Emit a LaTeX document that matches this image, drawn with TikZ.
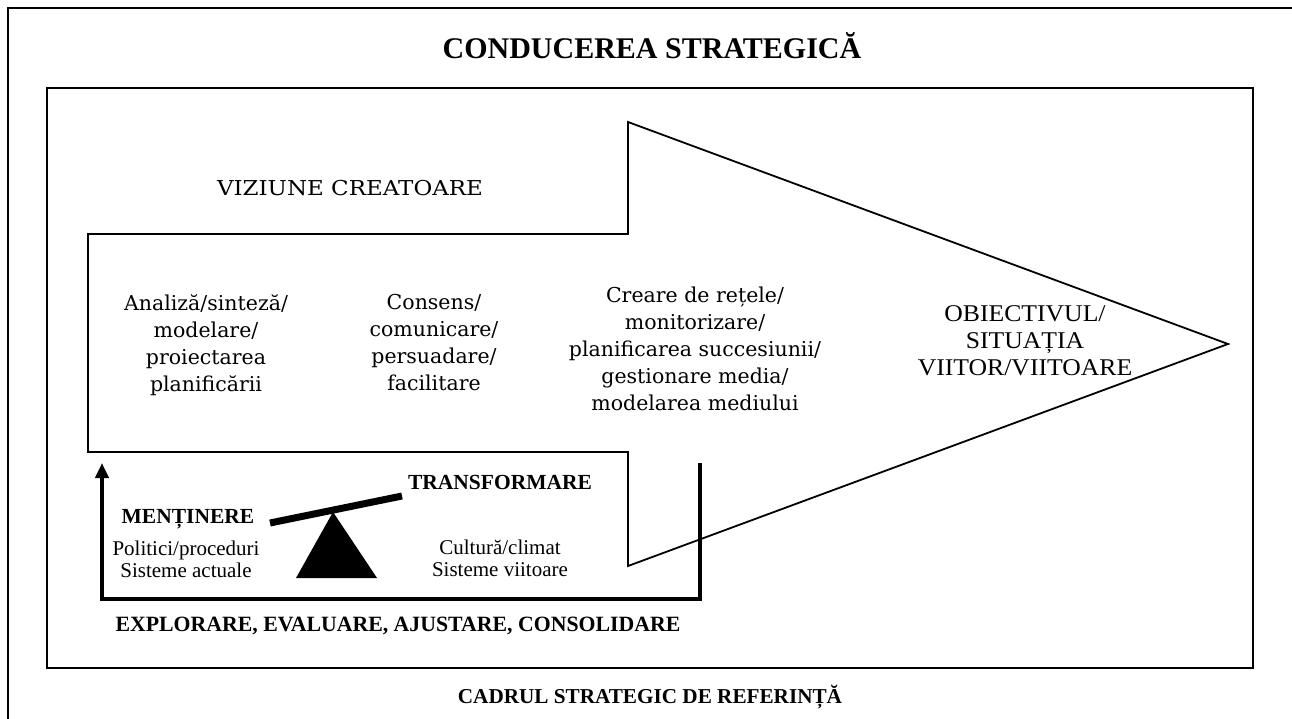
\documentclass[tikz,border=0pt]{standalone}
\usepackage{fontspec}
\setmainfont{Liberation Serif}
\newfontfamily\bk{DejaVu Serif}
\newfontfamily\bkwide[FakeStretch=1.12]{DejaVu Serif}
\newfontfamily\goalfont[FakeStretch=1.07]{Liberation Serif}
\newcommand\mytightlines{\lineskiplimit=-100pt\relax}
\usetikzlibrary{arrows.meta}
\begin{document}
\begin{tikzpicture}[x=1pt,y=-1pt,
  frameline/.style={line width=2pt, line join=miter},
  bigarrow/.style={line width=1.8pt, line join=miter},
  loopline/.style={line width=4.5pt, line join=miter},
  bktext/.style={font=\bk\fontsize{20.5}{27}\selectfont\mytightlines, align=center, inner sep=0pt},
  goaltext/.style={font=\goalfont\fontsize{24}{27}\selectfont\mytightlines, align=center, inner sep=0pt},
  smalltext/.style={font=\fontsize{21}{22}\selectfont\mytightlines, align=center, inner sep=0pt},
  boldlabel/.style={font=\bfseries\fontsize{21.5}{24}\selectfont, inner sep=0pt, anchor=base},
  titletext/.style={font=\bfseries\fontsize{30}{34}\selectfont, inner sep=0pt, anchor=base}
]
\useasboundingbox (0,0) rectangle (1292,719);
\fill[white] (0,0) rectangle (1292,719);

% outer frame (cropped)
\draw[frameline] (8,719) -- (8,8) -- (1292,8);
% inner frame
\draw[frameline] (47,88) rectangle (1253,668);

% big arrow
\coordinate (bodyTL) at (88,234);
\coordinate (stepT) at (628,234);
\coordinate (headT) at (628,122);
\coordinate (tip) at (1228,344);
\coordinate (headB) at (628,566);
\coordinate (stepB) at (628,452);
\coordinate (bodyBL) at (88,452);
\draw[bigarrow] (bodyTL) -- (stepT) -- (headT) -- (tip) -- (headB) -- (stepB) -- (bodyBL) -- cycle;

% loop bracket
\coordinate (loopR) at (700,463);
\coordinate (loopRB) at (700,599);
\coordinate (loopLB) at (102,599);
\coordinate (loopL) at (102,463);
\draw[loopline, -{Triangle[length=15pt,width=13pt]}] (loopR) -- (loopRB) -- (loopLB) -- (loopL);

% seesaw
\draw[line width=7pt] (270,523) -- (402,496);
\fill (333,512) -- (296,578) -- (377,578) -- cycle;

% texts
\node[titletext] (title) at (652,59) {CONDUCEREA STRATEGICĂ};
\node[font=\bkwide\fontsize{20.5}{27}\selectfont, inner sep=0pt, anchor=base] (viz) at (350,196) {VIZIUNE CREATOARE};
\node[bktext, anchor=north] (analiza) at (206,294) {Analiză/sinteză/\\modelare/\\proiectarea\\planificării};
\node[bktext, anchor=north] (consens) at (434,294) {Consens/\\comunicare/\\persuadare/\\facilitare};
\node[bktext, anchor=north] (creare) at (695,287) {Creare de rețele/\\monitorizare/\\planificarea succesiunii/\\gestionare media/\\modelarea mediului};
\node[goaltext, anchor=north] (goal) at (1025,305.5) {OBIECTIVUL/\\SITUAȚIA\\VIITOR/VIITOARE};

\node[boldlabel] (mentinere) at (188,523) {MENȚINERE};
\node[boldlabel] (transf) at (500,489) {TRANSFORMARE};
\node[smalltext, anchor=north] (politici) at (186,541) {Politici/proceduri\\Sisteme actuale};
\node[smalltext, anchor=north] (cultura) at (500,540) {Cultură/climat\\Sisteme viitoare};
\node[boldlabel, font=\bfseries\fontsize{21.8}{24}\selectfont] (explorare) at (398,631) {EXPLORARE, EVALUARE, AJUSTARE, CONSOLIDARE};
\node[boldlabel, font=\bfseries\fontsize{21.2}{24}\selectfont] (cadrul) at (650,703) {CADRUL STRATEGIC DE REFERINȚĂ};
\end{tikzpicture}
\end{document}
